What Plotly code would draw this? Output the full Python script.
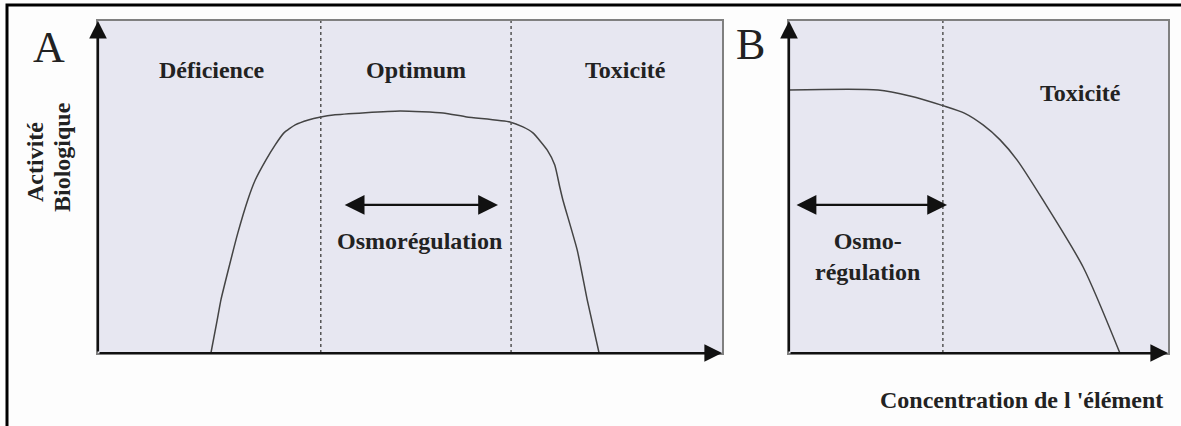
import plotly.graph_objects as go

# Panel A: concentration vs biological activity (arbitrary units 0-10)
conc_a = [1.81, 1.91, 1.97, 2.10, 2.24, 2.40, 2.52, 2.69, 2.84, 2.98, 3.16, 3.37,
          3.57, 3.77, 4.84, 5.53, 5.91, 6.60, 6.81, 6.97, 7.20, 7.32, 7.40, 7.45,
          7.68, 7.84, 8.03]
act_a = [0.0, 0.99, 1.60, 2.59, 3.61, 4.61, 5.21, 5.81, 6.27, 6.63, 6.87, 7.02,
         7.11, 7.17, 7.29, 7.23, 7.11, 6.96, 6.81, 6.63, 6.11, 5.66, 5.00, 4.61,
         3.10, 1.60, 0.0]
limits_a = [3.57, 6.62]
osmo_a = [3.93, 6.41]

# Panel B
conc_b = [0.0, 2.35, 3.19, 4.06, 4.64, 5.12, 5.57, 6.02, 6.70, 7.76, 8.73]
act_b = [7.92, 7.92, 7.74, 7.45, 7.22, 6.87, 6.42, 5.81, 4.61, 2.59, 0.0]
limits_b = [4.06]
osmo_b = [0.16, 4.17]
arrow_level = 4.46

zones_a = ["Déficience", "Optimum", "Toxicité"]
zones_a_x = [1.83, 5.10, 8.45]

W, H = 1181, 426
LINE = "#444444"
BG = "#e7e7f1"
serif = "Liberation Serif"

fig = go.Figure()
fig.add_trace(go.Scatter(x=conc_a, y=act_a, mode="lines",
                         line=dict(color=LINE, width=1.5, shape="spline", smoothing=0.5),
                         xaxis="x", yaxis="y", hoverinfo="skip"))
fig.add_trace(go.Scatter(x=conc_b, y=act_b, mode="lines",
                         line=dict(color=LINE, width=1.5, shape="spline", smoothing=0.7),
                         xaxis="x2", yaxis="y2", hoverinfo="skip"))

ax_style = dict(range=[0, 10], showgrid=False, zeroline=False, showticklabels=False,
                ticks="", showline=True, mirror=True, linecolor="#808080", linewidth=2,
                fixedrange=True)
fig.update_layout(
    width=W, height=H, margin=dict(l=0, r=0, t=0, b=0),
    paper_bgcolor="#fdfdfd", plot_bgcolor=BG, showlegend=False,
    xaxis=dict(domain=[98 / W, 722 / W], anchor="y", **ax_style),
    yaxis=dict(domain=[1 - 353 / H, 1 - 21 / H], anchor="x", **ax_style),
    xaxis2=dict(domain=[789 / W, 1168 / W], anchor="y2", **ax_style),
    yaxis2=dict(domain=[1 - 353 / H, 1 - 21 / H], anchor="x2", **ax_style),
)

# dotted zone limits
for xv in limits_a:
    fig.add_shape(type="line", x0=xv, x1=xv, y0=0, y1=10, xref="x", yref="y",
                  line=dict(color="#555555", width=1.5, dash="dot"))
for xv in limits_b:
    fig.add_shape(type="line", x0=xv, x1=xv, y0=0, y1=10, xref="x2", yref="y2",
                  line=dict(color="#555555", width=1.5, dash="dot"))

# outer frame (only top and left are visible)
fig.add_shape(type="rect", xref="paper", yref="paper", x0=7 / W, x1=1.02,
              y0=-0.05, y1=1 - 5 / H, line=dict(color="black", width=3))


def arrow(xr, yr, x0, y0, x1, y1, both=False, size=1.6):
    fig.add_annotation(x=x1, y=y1, ax=x0, ay=y0, xref=xr, yref=yr, axref=xr, ayref=yr,
                       showarrow=True, arrowhead=2, arrowsize=size, arrowwidth=2.2,
                       arrowcolor="#111111", text="",
                       arrowside="end+start" if both else "end")


# axes with arrowheads
for xr, yr in [("x", "y"), ("x2", "y2")]:
    arrow(xr, yr, 0, 0, 0, 10)
    arrow(xr, yr, 0, 0, 10, 0)

arrow("x", "y", osmo_a[0], arrow_level, osmo_a[1], arrow_level, both=True, size=1.8)
arrow("x2", "y2", osmo_b[0], arrow_level, osmo_b[1], arrow_level, both=True, size=1.8)

bold = dict(family=serif, size=24, color="#222222")

for label, xv in zip(zones_a, zones_a_x):
    fig.add_annotation(x=xv, y=8.52, xref="x", yref="y", text="<b>%s</b>" % label,
                       showarrow=False, font=bold)
fig.add_annotation(x=5.16, y=3.37, xref="x", yref="y", text="<b>Osmorégulation</b>",
                   showarrow=False, font=bold)
fig.add_annotation(x=7.68, y=7.83, xref="x2", yref="y2", text="<b>Toxicité</b>",
                   showarrow=False, font=bold)
fig.add_annotation(x=2.06, y=2.9, xref="x2", yref="y2",
                   text="<b>Osmo-</b><br><b>régulation</b>",
                   showarrow=False, font=bold)

# panel letters
letter = dict(family=serif, size=44, color="#222222")
fig.add_annotation(x=49 / W, y=1 - 47 / H, xref="paper", yref="paper", text="A",
                   xanchor="center", yanchor="middle", showarrow=False, font=letter)
fig.add_annotation(x=750 / W, y=1 - 45 / H, xref="paper", yref="paper", text="B",
                   xanchor="center", yanchor="middle", showarrow=False, font=letter)

# axis titles
fig.add_annotation(x=35 / W, y=1 - 162 / H, xref="paper", yref="paper",
                   xanchor="center", yanchor="middle",
                   text="<b>Activité</b>", textangle=-90, showarrow=False, font=bold)
fig.add_annotation(x=62 / W, y=1 - 157 / H, xref="paper", yref="paper",
                   xanchor="center", yanchor="middle",
                   text="<b>Biologique</b>", textangle=-90, showarrow=False, font=bold)
fig.add_annotation(x=1165 / W, y=1 - 400 / H, xref="paper", yref="paper",
                   xanchor="right", yanchor="middle",
                   text="<b>Concentration de l 'élément</b>",
                   showarrow=False, font=bold)

fig.write_html("out.html", config={"displayModeBar": False},
               post_script="document.body.style.margin='0';")
